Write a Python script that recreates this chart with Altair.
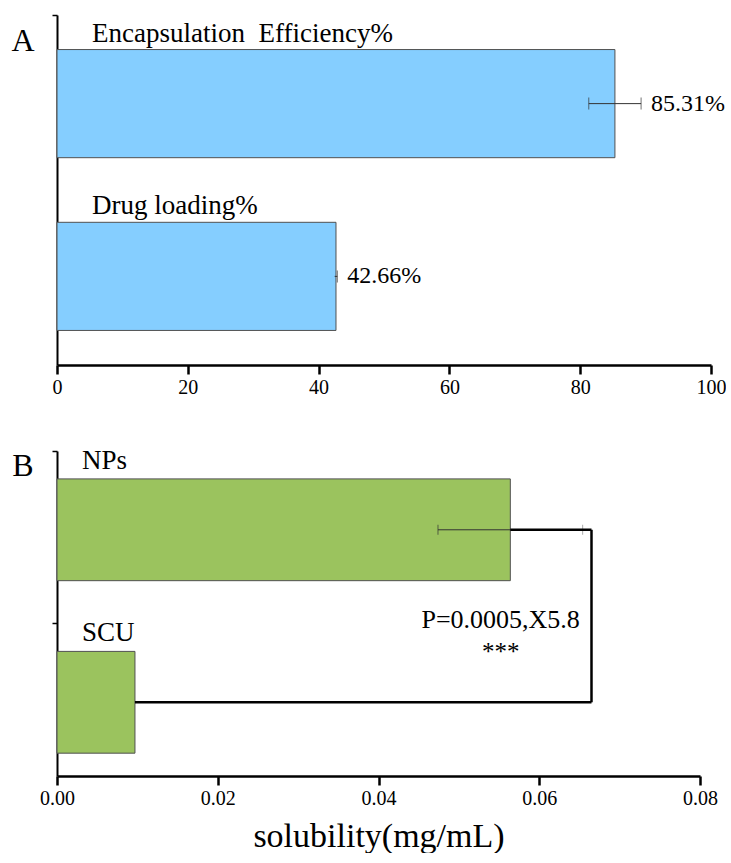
import altair as alt
import pandas as pd

FONT = "Liberation Serif"

# Panel A: loading metrics of the nanoparticles (%)
a_keys = ["EE", "DL"]
a_names = ["Encapsulation\u00a0\u00a0Efficiency%", "Drug loading%"]
a_values = [85.31, 42.66]
a_errors = [4.0, 0.2]
a_ticks = [0, 20, 40, 60, 80, 100]

# Panel B: solubility (mg/mL)
b_keys = ["NPs", "SCU"]
b_values = [0.0564, 0.0097]
b_errors = [0.009, 0.0]
b_ticks = [0.00, 0.02, 0.04, 0.06, 0.08]
b_bracket_x = 0.0665
b_stat_x = 0.0552
b_stat_lines = ["P=0.0005,X5.8", "***"]

A_COLOR = "#85CEFF"
B_COLOR = "#9BC35E"
EDGE = "#505050"


def y_axis(tick_values, offset):
    # category ticks sit between the bars, not at their centres
    return alt.Axis(title=None, labels=False, values=tick_values, bandPosition=0,
                    tickExtra=False, tickOffset=offset, domainColor="black",
                    domainWidth=2, tickColor="black", tickWidth=1.5, tickSize=5, grid=False)


def x_axis(values, fmt, title=None):
    kw = dict(values=values, format=fmt, domainColor="black", domainWidth=2.5,
              tickColor="black", tickWidth=2.5, tickSize=9, labelFont=FONT,
              labelFontSize=20, labelColor="black", labelPadding=3, grid=False,
              labelFlush=False)
    if title:
        kw.update(title=title, titleFont=FONT, titleFontSize=34, titleFontWeight="normal",
                  titleColor="black", titlePadding=11)
    else:
        kw.update(title=None)
    return alt.Axis(**kw)


# ---------- panel A ----------
dfa = pd.DataFrame({"key": a_keys, "name": a_names, "value": a_values, "err": a_errors})
dfa["lo"] = dfa["value"] - dfa["err"]
dfa["hi"] = dfa["value"] + dfa["err"]
dfa["txt"] = [f"{v:.2f}%" for v in a_values]

ya = alt.Y("key:N", sort=a_keys,
           scale=alt.Scale(paddingInner=0.374, paddingOuter=0.2),
           axis=y_axis([a_keys[0]], -34.6))
ya_plain = alt.Y("key:N", sort=a_keys)
xa_scale = alt.Scale(domain=[0, 100], nice=False)

base_a = alt.Chart(dfa)
bars_a = base_a.mark_bar(color=A_COLOR, stroke=EDGE, strokeWidth=1).encode(
    x=alt.X("value:Q", scale=xa_scale, axis=x_axis(a_ticks, "d")), y=ya)
err_a = base_a.mark_rule(color="#333", strokeWidth=1).encode(
    x="lo:Q", x2="hi:Q", y=ya_plain)
cap_lo_a = base_a.transform_filter("datum.err > 1").mark_tick(
    color="#333", thickness=1, size=12).encode(x="lo:Q", y=ya_plain)
cap_hi_a = base_a.mark_tick(color="#333", thickness=1, size=12).encode(
    x="hi:Q", y=ya_plain)
val_a = base_a.mark_text(align="left", dx=10, font=FONT, fontSize=24, color="black").encode(
    x="hi:Q", y=ya_plain, text="txt:N")
name_a = base_a.mark_text(align="left", dx=35, dy=-70, font=FONT, fontSize=27, color="black").encode(
    x=alt.datum(0), y=ya_plain, text="name:N")
letter_a = alt.Chart(pd.DataFrame({"t": ["A"]})).mark_text(
    font=FONT, fontSize=32, color="black").encode(
    x=alt.value(-34), y=alt.value(26), text="t:N")

panel_a = alt.layer(bars_a, err_a, cap_lo_a, cap_hi_a, val_a, name_a, letter_a).properties(
    width=654, height=350)

# ---------- panel B ----------
dfb = pd.DataFrame({"key": b_keys, "value": b_values, "err": b_errors})
dfb["lo"] = dfb["value"] - dfb["err"]
dfb["hi"] = dfb["value"] + dfb["err"]
dfb["bx"] = b_bracket_x

yb = alt.Y("key:N", sort=b_keys,
           scale=alt.Scale(paddingInner=0.41, paddingOuter=0.147, align=0.55),
           axis=y_axis(b_keys, -28))
yb_plain = alt.Y("key:N", sort=b_keys)
xb_scale = alt.Scale(domain=[0, 0.08], nice=False)

base_b = alt.Chart(dfb)
bars_b = base_b.mark_bar(color=B_COLOR, stroke=EDGE, strokeWidth=1).encode(
    x=alt.X("value:Q", scale=xb_scale, axis=x_axis(b_ticks, ".2f", "solubility(mg/mL)")), y=yb)
err_b = base_b.transform_filter("datum.err > 0").mark_rule(color="#333", strokeWidth=1).encode(
    x="lo:Q", x2="hi:Q", y=yb_plain)
cap_lo_b = base_b.transform_filter("datum.err > 0").mark_tick(color="#333", thickness=1, size=10).encode(
    x="lo:Q", y=yb_plain)
cap_hi_b = base_b.transform_filter("datum.err > 0").mark_tick(color="#888", thickness=1, size=10).encode(
    x="hi:Q", y=yb_plain)
# significance bracket joining the two bars
arm_b = base_b.mark_rule(color="black", strokeWidth=2.5).encode(
    x="value:Q", x2="bx:Q", y=yb_plain)
span_b = alt.Chart(pd.DataFrame({"top": [b_keys[0]], "bottom": [b_keys[1]]})).mark_rule(
    color="black", strokeWidth=2.5).encode(
    x=alt.datum(b_bracket_x), y=alt.Y("top:N", sort=b_keys), y2="bottom:N")
stat_df = pd.DataFrame({"line": b_stat_lines, "key": [b_keys[1]] * 2, "row": [0, 1]})
stat_1 = alt.Chart(stat_df).transform_filter("datum.row == 0").mark_text(
    font=FONT, fontSize=26, color="black", dy=-82).encode(
    x=alt.datum(b_stat_x), y=yb_plain, text="line:N")
stat_2 = alt.Chart(stat_df).transform_filter("datum.row == 1").mark_text(
    font=FONT, fontSize=25, color="black", dy=-50).encode(
    x=alt.datum(b_stat_x), y=yb_plain, text="line:N")
name_b = base_b.mark_text(align="left", dx=25, dy=-69, font=FONT, fontSize=27, color="black").encode(
    x=alt.datum(0), y=yb_plain, text="key:N")
letter_b = alt.Chart(pd.DataFrame({"t": ["B"]})).mark_text(
    font=FONT, fontSize=32, color="black").encode(
    x=alt.value(-34), y=alt.value(15), text="t:N")

panel_b = alt.layer(bars_b, err_b, cap_lo_b, cap_hi_b, arm_b, span_b, stat_1, stat_2,
                    name_b, letter_b).properties(width=643, height=325)

chart = alt.vconcat(panel_a, panel_b, spacing=49).properties(
    padding={"left": 11, "top": 14, "right": 0, "bottom": 0},
    background="white",
).configure_view(stroke=None)

chart.save("out.html", embed_options={"renderer": "svg", "actions": False})
